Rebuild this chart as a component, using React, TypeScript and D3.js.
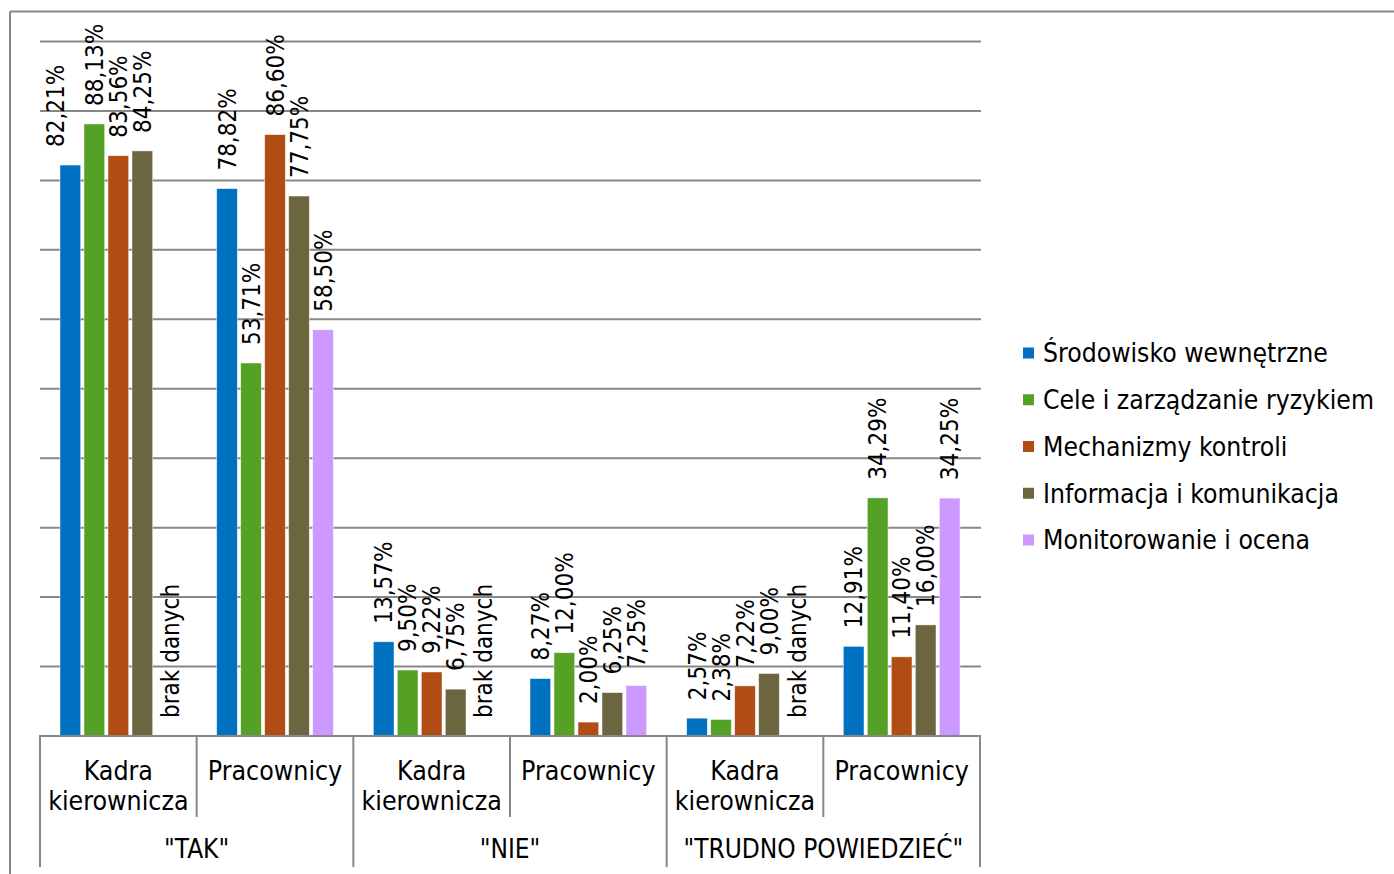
import React from "react";
import * as d3 from "d3";

const groups = ['"TAK"', '"NIE"', '"TRUDNO POWIEDZIEĆ"'];
const subgroups = ["Kadra kierownicza", "Pracownicy"];
const seriesNames = [
  "Środowisko wewnętrzne",
  "Cele i zarządzanie ryzykiem",
  "Mechanizmy kontroli",
  "Informacja i komunikacja",
  "Monitorowanie i ocena",
];
const seriesColors = ["#0070C0", "#55A126", "#B04C14", "#6C6640", "#CC99FF"];

// values per category: TAK-Kadra, TAK-Prac, NIE-Kadra, NIE-Prac, TRUDNO-Kadra, TRUDNO-Prac
const srodowisko = [82.21, 78.82, 13.57, 8.27, 2.57, 12.91];
const cele = [88.13, 53.71, 9.5, 12.0, 2.38, 34.29];
const mechanizmy = [83.56, 86.6, 9.22, 2.0, 7.22, 11.4];
const informacja = [84.25, 77.75, 6.75, 6.25, 9.0, 16.0];
const monitorowanie: (number | null)[] = [null, 58.5, null, 7.25, null, 34.25];
const missingLabel = "brak danych";

const yTicks = [0, 10, 20, 30, 40, 50, 60, 70, 80, 90, 100];

const seriesValues: (number | null)[][] = [srodowisko, cele, mechanizmy, informacja, monitorowanie];
const categories = groups.flatMap((g) => subgroups.map((s) => `${g}|${s}`));

const W = 1394;
const H = 874;
const FONT = "'DejaVu Sans Condensed', 'DejaVu Sans', sans-serif";
const GRID = "#878787";

export default function App() {
  const x0 = d3.scaleBand<string>().domain(categories).range([40, 980]).paddingInner(0).paddingOuter(0);
  const bw = x0.bandwidth();
  const x1 = d3
    .scaleBand<string>()
    .domain(seriesNames)
    .range([0, bw])
    .paddingInner(0.1375)
    .paddingOuter(0.833);
  const y = d3.scaleLinear().domain([0, 100]).range([736, 41.5]);
  const groupScale = d3.scaleBand<string>().domain(groups).range([40, 980]);

  const fmt = (v: number) => v.toFixed(2).replace(".", ",") + "%";

  const nudge: Record<string, number> = { "0-0": -15 };

  return (
    <div style={{ position: "fixed", left: 0, top: 0 }}>
      <svg width={W} height={H} style={{ display: "block", background: "#fff" }} fontFamily={FONT}>
        {/* outer frame */}
        <line x1={10} y1={11.5} x2={W} y2={11.5} stroke={GRID} strokeWidth={2} />
        <line x1={10} y1={11.5} x2={10} y2={H} stroke={GRID} strokeWidth={2} />

        {/* gridlines */}
        {yTicks.filter((t) => t > 0).map((t) => (
          <line key={t} x1={40} x2={981} y1={y(t)} y2={y(t)} stroke={GRID} strokeWidth={2} />
        ))}

        {/* bars */}
        {seriesValues.map((vals, si) =>
          vals.map((v, ci) =>
            v == null ? null : (
              <rect
                key={`${si}-${ci}`}
                x={(x0(categories[ci]) as number) + (x1(seriesNames[si]) as number)}
                y={y(v)}
                width={x1.bandwidth()}
                height={y(0) - y(v)}
                fill={seriesColors[si]}
                stroke="#ffffff"
                strokeOpacity={0.6}
                strokeWidth={0.8}
              />
            )
          )
        )}

        {/* data labels */}
        {seriesValues.map((vals, si) =>
          vals.map((v, ci) => {
            const cx =
              (x0(categories[ci]) as number) + (x1(seriesNames[si]) as number) + x1.bandwidth() / 2 +
              (nudge[`${si}-${ci}`] || 0) + (v == null ? 4 : 0);
            const top = y(v == null ? 0 : v) - 18;
            return (
              <text
                key={`l-${si}-${ci}`}
                transform={`translate(${cx},${top}) rotate(-90)`}
                textAnchor="start"
                dy="0.36em"
                fontSize={24}
                fill="#000"
              >
                {v == null ? missingLabel : fmt(v)}
              </text>
            );
          })
        )}

        {/* category axis */}
        <line x1={39} x2={981} y1={736} y2={736} stroke={GRID} strokeWidth={2} />
        {categories.map((c, i) => {
          const xl = x0(c) as number;
          const isGroupStart = i % 2 === 0;
          return (
            <line key={`t-${i}`} x1={xl} x2={xl} y1={736} y2={isGroupStart ? 867 : 817} stroke={GRID} strokeWidth={2} />
          );
        })}
        <line x1={980} x2={980} y1={736} y2={867} stroke={GRID} strokeWidth={2} />

        {categories.map((c, i) => {
          const cx = (x0(c) as number) + bw / 2;
          const sub = c.split("|")[1];
          const words = sub.split(" ");
          return (
            <text key={`c-${i}`} x={cx} y={780} textAnchor="middle" fontSize={26.5} fill="#000">
              {words.map((w, wi) => (
                <tspan key={wi} x={cx} dy={wi === 0 ? 0 : 30}>
                  {w}
                </tspan>
              ))}
            </text>
          );
        })}
        {groups.map((g) => (
          <text
            key={g}
            x={(groupScale(g) as number) + groupScale.bandwidth() / 2}
            y={858}
            textAnchor="middle"
            fontSize={26}
            fill="#000"
          >
            {g}
          </text>
        ))}

        {/* legend */}
        {seriesNames.map((s, i) => {
          const cy = 353 + i * 46.75;
          return (
            <g key={s}>
              <rect x={1023} y={cy - 5.5} width={11} height={11} fill={seriesColors[i]} />
              <text x={1043} y={cy} dy="0.36em" fontSize={26.3} fill="#000">
                {s}
              </text>
            </g>
          );
        })}
      </svg>
    </div>
  );
}
